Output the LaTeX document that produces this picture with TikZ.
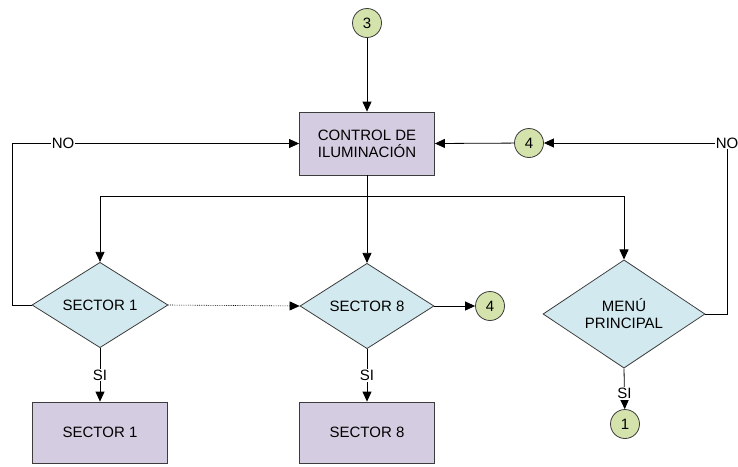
\documentclass[tikz,border=0pt]{standalone}
\usepackage{fontspec}
\setmainfont{Liberation Sans}
\usetikzlibrary{shapes.geometric,arrows.meta}
\definecolor{boxfill}{RGB}{212,204,224}
\definecolor{decfill}{RGB}{210,233,239}
\definecolor{linkfill}{RGB}{212,227,172}
\definecolor{edge}{RGB}{60,60,60}
\tikzset{
  every node/.style={font=\fontsize{15}{17}\selectfont, align=center},
  procbox/.style={rectangle, draw=edge, fill=boxfill, line width=0.8pt,
    minimum width=135pt, minimum height=62pt, inner sep=0pt},
  decision/.style={diamond, draw=edge, fill=decfill, line width=0.8pt,
    minimum width=#1, inner sep=0pt},
  link/.style={circle, draw=edge, fill=linkfill, line width=0.8pt,
    minimum size=29pt, inner sep=0pt},
  flow/.style={draw=black, line width=0.8pt, -{Triangle[length=10pt,width=9pt]}},
  plainline/.style={draw=black, line width=0.8pt},
  tag/.style={fill=white, inner sep=1pt}
}
\begin{document}
\begin{tikzpicture}[x=1pt,y=-1pt]
\useasboundingbox (0,0) rectangle (738,466);

% nodes
\node[link] (c3) at (367,23) {3};
\node[procbox, minimum height=63pt] (ctrl) at (367,143.5) {CONTROL DE\\ILUMINACIÓN};
\node[link] (c4a) at (529,143) {4};
\node[decision=136pt, minimum height=80pt] (d1) at (100,305) {SECTOR 1};
\node[decision=134pt, minimum height=80pt] (d8) at (367,306) {SECTOR 8};
\node[decision=162pt, minimum height=96pt] (dm) at (624,314) {MENÚ\\PRINCIPAL};
\node[link] (c4b) at (490,306) {4};
\node[procbox, minimum height=61pt] (b1) at (100,432.5) {SECTOR 1};
\node[procbox, minimum height=61pt] (b8) at (367,432.5) {SECTOR 8};
\node[link] (c1) at (625,424) {1};

% routing points
\coordinate (J) at (367,196);
\coordinate (L) at (12,305);
\coordinate (R) at (727,143);

% connectors
\draw[flow] (c3) -- (ctrl);
\draw[flow] (c4a) -- (ctrl.east);
\draw[flow] (ctrl) -- (d8);
\draw[flow] (J) -| (d1.north);
\draw[flow] (J) -| (dm.north);
\draw[flow] (d1.west) -- (L) |- node[tag, pos=0.589] {NO} (ctrl.west);
\draw[plainline] (dm.east) -| (R);
\draw[flow] (R) -- (c4a.east);
\node[tag] at (R) {NO};
\draw[flow, densely dotted, line width=0.6pt] (d1.east) -- (d8.west);
\draw[flow] (d8.east) -- (c4b);
\draw[flow] (d1.south) -- node[tag] {SI} (b1.north);
\draw[flow] (d8.south) -- node[tag] {SI} (b8.north);
\draw[flow] (dm.south) -- node[tag, pos=0.62] {SI} (c1);
\end{tikzpicture}
\end{document}
